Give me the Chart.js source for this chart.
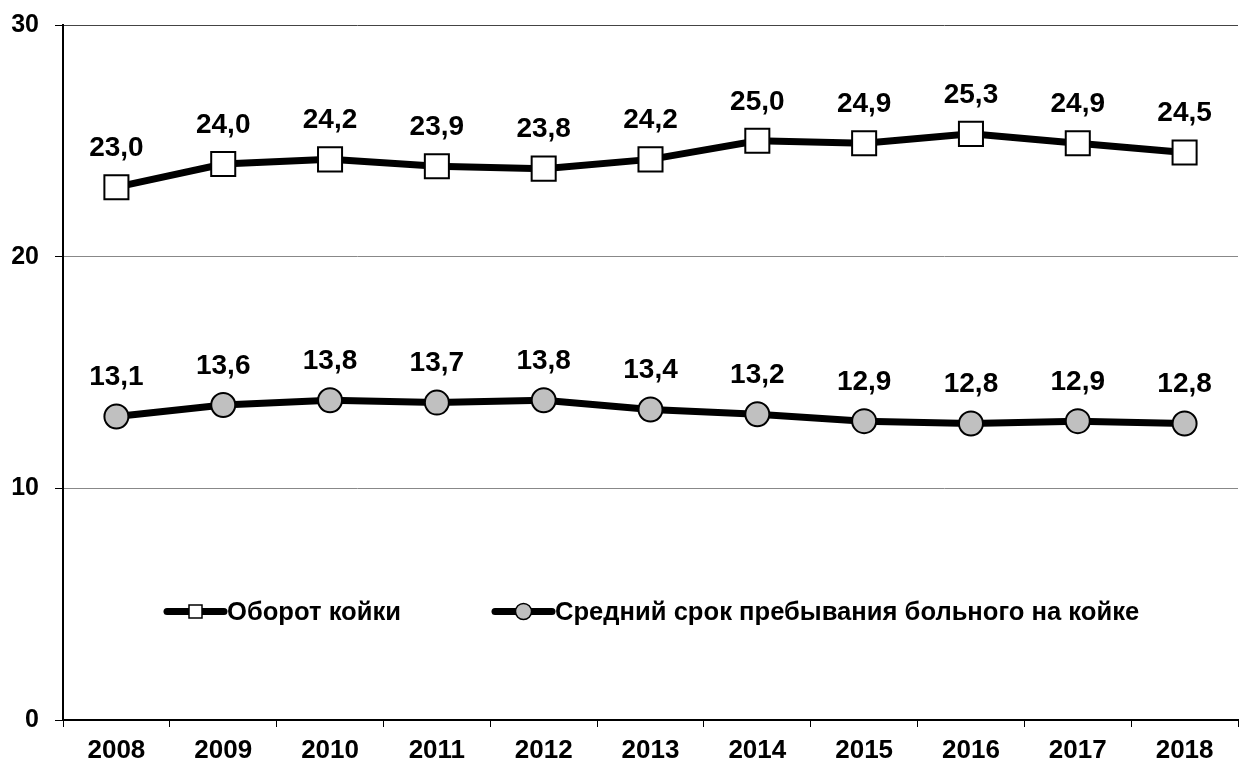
<!DOCTYPE html>
<html>
<head>
<meta charset="utf-8">
<script src="https://cdn.jsdelivr.net/npm/chart.js@4"></script>
<style>
  body { margin: 0; background: #fff; }
  #wrap { width: 1240px; height: 763px; }
</style>
</head>
<body>
<div id="wrap"><canvas id="chart_beds"></canvas></div>
<script>
var years = ['2008', '2009', '2010', '2011', '2012', '2013', '2014', '2015', '2016', '2017', '2018'];
var bedTurnover = [23.0, 24.0, 24.2, 23.9, 23.8, 24.2, 25.0, 24.9, 25.3, 24.9, 24.5];
var avgStay = [13.1, 13.6, 13.8, 13.7, 13.8, 13.4, 13.2, 12.9, 12.8, 12.9, 12.8];
var seriesNames = ['Оборот койки', 'Средний срок пребывания больного на койке'];
var yTicks = [0, 10, 20, 30];

var FONT = 'Arial, "Liberation Sans", sans-serif';

function fmt(v) {
    return v.toFixed(1).replace('.', ',');
}

// value labels above every point
var valueLabels = {
    id: 'valueLabels',
    afterDatasetsDraw: function (chart) {
        var ctx = chart.ctx;
        ctx.save();
        ctx.font = 'bold 28px ' + FONT;
        ctx.fillStyle = '#000';
        ctx.textAlign = 'center';
        ctx.textBaseline = 'middle';
        chart.data.datasets.forEach(function (ds, i) {
            chart.getDatasetMeta(i).data.forEach(function (pt, j) {
                ctx.fillText(fmt(ds.data[j]), pt.x, pt.y - 39);
            });
        });
        ctx.restore();
    }
};

// legend drawn inside the plot area
var innerLegend = {
    id: 'innerLegend',
    afterDraw: function (chart) {
        var ctx = chart.ctx;
        var y = 611.5;
        var items = [
            { x1: 167, x2: 224, text: 227, ds: 0 },
            { x1: 495, x2: 552, text: 555, ds: 1 }
        ];
        ctx.save();
        items.forEach(function (it) {
            var ds = chart.data.datasets[it.ds];
            ctx.strokeStyle = '#000';
            ctx.lineWidth = 7;
            ctx.lineCap = 'round';
            ctx.beginPath();
            ctx.moveTo(it.x1, y);
            ctx.lineTo(it.x2, y);
            ctx.stroke();
            var cx = (it.x1 + it.x2) / 2;
            ctx.lineWidth = 1.5;
            ctx.fillStyle = ds.pointBackgroundColor;
            ctx.beginPath();
            if (ds.pointStyle === 'rect') {
                ctx.rect(cx - 6.5, y - 6.5, 13, 13);
            } else {
                ctx.arc(cx, y, 8, 0, Math.PI * 2);
            }
            ctx.fill();
            ctx.stroke();
            ctx.fillStyle = '#000';
            ctx.font = 'bold 25.6px ' + FONT;
            ctx.textAlign = 'left';
            ctx.textBaseline = 'middle';
            ctx.fillText(ds.label, it.text, y + 1);
        });
        ctx.restore();
    }
};

var ctx = document.getElementById('chart_beds').getContext('2d');
var chart = new Chart(ctx, {
    type: 'line',
    data: {
        labels: years,
        datasets: [{
            label: seriesNames[0],
            data: bedTurnover,
            borderColor: '#000',
            borderWidth: 7,
            pointStyle: 'rect',
            pointRadius: 17,
            pointBorderWidth: 2,
            pointBorderColor: '#000',
            pointBackgroundColor: '#fff',
            tension: 0
        }, {
            label: seriesNames[1],
            data: avgStay,
            borderColor: '#000',
            borderWidth: 7,
            pointStyle: 'circle',
            pointRadius: 12,
            pointBorderWidth: 2,
            pointBorderColor: '#000',
            pointBackgroundColor: '#c0c0c0',
            tension: 0
        }]
    },
    options: {
        responsive: true,
        maintainAspectRatio: false,
        animation: false,
        layout: { autoPadding: false, padding: { top: 25, right: 2, left: 0, bottom: 0 } },
        plugins: {
            legend: { display: false },
            tooltip: { enabled: false }
        },
        scales: {
            x: {
                offset: true,
                grid: {
                    offset: true,
                    drawOnChartArea: false,
                    tickLength: 7,
                    tickColor: '#000',
                    tickWidth: 1
                },
                border: { color: '#000', width: 2 },
                ticks: {
                    color: '#000',
                    font: { family: FONT, size: 26, weight: 'bold' },
                    padding: 8,
                    maxRotation: 0
                },
                afterFit: function (scale) {
                    scale.height = 43;
                    scale.paddingLeft = 0;
                    scale.paddingRight = 0;
                }
            },
            y: {
                min: 0,
                max: 30,
                afterBuildTicks: function (scale) {
                    scale.ticks = yTicks.map(function (v) { return { value: v }; });
                },
                grid: {
                    color: function (c) {
                        return c.tick && c.tick.value === 30 ? '#444' : '#888';
                    },
                    lineWidth: 1,
                    tickLength: 8,
                    tickColor: '#000'
                },
                border: { color: '#000', width: 2 },
                ticks: {
                    color: '#000',
                    font: { family: FONT, size: 25, weight: 'bold' },
                    padding: 16
                },
                afterFit: function (scale) {
                    scale.width = 63;
                    scale.paddingTop = 0;
                    scale.paddingBottom = 0;
                }
            }
        }
    },
    plugins: [valueLabels, innerLegend]
});
</script>
</body>
</html>
